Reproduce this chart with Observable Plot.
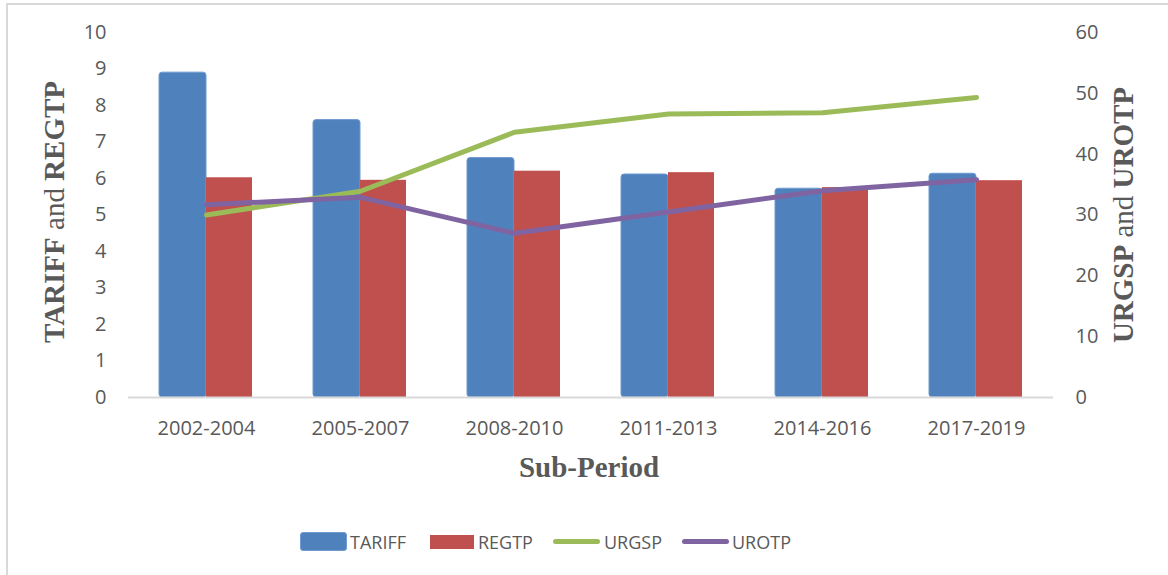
<!DOCTYPE html>
<html><head><meta charset="utf-8">
<script src="https://cdn.jsdelivr.net/npm/d3@7"></script>
<script src="https://cdn.jsdelivr.net/npm/@observablehq/plot@0.6"></script>
<style>
html,body{margin:0;padding:0;background:#fff;}
body{width:1168px;height:575px;overflow:hidden;position:relative;}
#frame{position:absolute;left:6px;top:3px;width:1300px;height:700px;border-left:2px solid #d9d9d9;border-top:2px solid #d9d9d9;}
#chart{position:absolute;left:0;top:0;}
#legend{position:absolute;left:0;top:0;width:1168px;height:575px;pointer-events:none;font-family:'Open Sans',sans-serif;font-size:18px;color:#595959;}
.sw{position:absolute;box-sizing:border-box;}
.lt{position:absolute;top:529px;line-height:26px;white-space:nowrap;}
</style></head>
<body>
<div id="frame"></div>
<div id="chart"></div>
<div id="legend"></div>
<script>
// ---- data ----
const periods = ["2002-2004","2005-2007","2008-2010","2011-2013","2014-2016","2017-2019"];
const tariff = [8.9, 7.6, 6.56, 6.11, 5.72, 6.13];
const regtp  = [6.02, 5.95, 6.2, 6.16, 5.75, 5.94];
const urgsp  = [30.0, 33.9, 43.6, 46.6, 46.8, 49.3];
const urotp  = [31.7, 32.9, 27.0, 30.5, 34.0, 35.8];
const leftTicks  = [0,1,2,3,4,5,6,7,8,9,10];
const rightTicks = [0,10,20,30,40,50,60];
const seriesNames = ["TARIFF","REGTP","URGSP","UROTP"];
const colors = {TARIFF:"#4F81BD", REGTP:"#C0504D", URGSP:"#9BBB59", UROTP:"#8064A2"};

const ratio = 60 / 10; // right axis max / left axis max
const rows = periods.map((p, i) => ({
  period: p, tariff: tariff[i], regtp: regtp[i],
  urgsp: urgsp[i] / ratio, urotp: urotp[i] / ratio
}));

const plot = Plot.plot({
  width: 1168, height: 575,
  marginLeft: 128, marginRight: 115, marginTop: 32, marginBottom: 178,
  style: {fontFamily: "'Open Sans', sans-serif", fontSize: "20px", color: "#595959", background: "transparent", overflow: "visible"},
  x: {domain: periods, padding: 0, axis: null},
  y: {domain: [0, 10], axis: null},
  marks: [
    Plot.axisY({ticks: leftTicks, tickSize: 0, tickPadding: 22, label: null, fontSize: 20}),
    Plot.axisY({anchor: "right", ticks: rightTicks.map(d => d / ratio), tickFormat: d => Math.round(d * ratio), tickSize: 0, tickPadding: 22, label: null, fontSize: 20}),
    Plot.axisX({tickSize: 0, tickPadding: 23, label: null, fontSize: 20}),
    Plot.barY(rows, {x: "period", y: "tariff", fill: colors.TARIFF, stroke: "#6f9bd0", strokeWidth: 1, rx: 3, insetLeft: 30, insetRight: 77}),
    Plot.barY(rows, {x: "period", y: "regtp", fill: colors.REGTP, insetLeft: 77, insetRight: 31}),
    Plot.ruleY([0], {stroke: "#d9d9d9", strokeWidth: 2}),
    Plot.line(rows, {x: "period", y: "urgsp", stroke: colors.URGSP, strokeWidth: 5, strokeLinecap: "round", strokeLinejoin: "round"}),
    Plot.line(rows, {x: "period", y: "urotp", stroke: colors.UROTP, strokeWidth: 5, strokeLinecap: "round", strokeLinejoin: "round"})
  ]
});
document.getElementById("chart").appendChild(plot);

// axis titles
const svg = d3.select(plot);
const serif = "'Liberation Serif', 'DejaVu Serif', serif";
function title(x, y, rot, parts) {
  const t = svg.append("text")
    .attr("transform", `translate(${x},${y})` + (rot ? ` rotate(${rot})` : ""))
    .attr("text-anchor", "middle")
    .attr("font-family", serif)
    .attr("font-size", 29)
    .attr("fill", "#595959");
  parts.forEach(([s, b]) => t.append("tspan").attr("font-weight", b ? "bold" : "normal").text(s));
}
title(64, 212, -90, [["TARIFF", true], [" and ", false], ["REGTP", true]]);
title(1133, 215, -90, [["URGSP", true], [" and ", false], ["UROTP", true]]);
title(589, 477, 0, [["Sub-Period", true]]);

// legend
const legend = document.getElementById("legend");
const swLeft = [300, 430, 553, 682];
const txLeft = [350, 478, 604, 732];
seriesNames.forEach((name, i) => {
  const sw = document.createElement("div");
  sw.className = "sw";
  sw.style.left = swLeft[i] + "px";
  if (name === "TARIFF") {
    Object.assign(sw.style, {top: "532px", width: "47px", height: "19px", background: colors[name], border: "1px solid #6f9bd0", borderRadius: "3px"});
  } else if (name === "REGTP") {
    Object.assign(sw.style, {top: "535px", width: "44px", height: "14px", background: colors[name]});
  } else {
    Object.assign(sw.style, {top: "539px", width: "47px", height: "5px", background: colors[name], borderRadius: "3px"});
  }
  legend.appendChild(sw);
  const tx = document.createElement("div");
  tx.className = "lt";
  tx.style.left = txLeft[i] + "px";
  tx.textContent = name;
  legend.appendChild(tx);
});
</script>
</body></html>
